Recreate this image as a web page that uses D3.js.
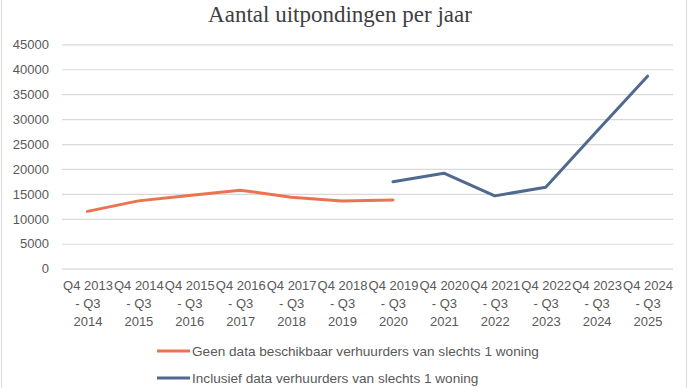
<!DOCTYPE html>
<html>
<head>
<meta charset="utf-8">
<script src="https://cdn.jsdelivr.net/npm/d3@7"></script>
<style>
  body { margin: 0; background: #fff; }
  svg { display: block; font-family: "Liberation Sans", Arial, sans-serif; }
</style>
</head>
<body>
<div id="chart"></div>
<script>
"use strict";

var categories = [
    "Q4 2013 - Q3 2014", "Q4 2014 - Q3 2015", "Q4 2015 - Q3 2016",
    "Q4 2016 - Q3 2017", "Q4 2017 - Q3 2018", "Q4 2018 - Q3 2019",
    "Q4 2019 - Q3 2020", "Q4 2020 - Q3 2021", "Q4 2021 - Q3 2022",
    "Q4 2022 - Q3 2023", "Q4 2023 - Q3 2024", "Q4 2024 - Q3 2025"
];
// orange series: first 7 periods
var geenDataCats = categories.slice(0, 7);
var geenData = [11500, 13600, 14700, 15750, 14350, 13600, 13800];
// blue series: from Q4 2019 onwards
var inclusiefCats = categories.slice(6);
var inclusiefData = [17450, 19150, 14600, 16350, 27500, 38600];

var yTicks = [0, 5000, 10000, 15000, 20000, 25000, 30000, 35000, 40000, 45000];
var seriesNames = [
    "Geen data beschikbaar verhuurders van slechts 1 woning",
    "Inclusief data verhuurders van slechts 1 woning"
];
var seriesColors = ["#ea7350", "#4f6a8e"];

function chart() {
    var w = 690;
    var h = 388;
    var left = 62, right = 673, top = 44.3, bottom = 268.7;

    var svg = d3.select("#chart")
                .append("svg")
                .attr("width", w)
                .attr("height", h);

    // chart area border
    svg.append("rect")
       .attr("x", 1.5).attr("y", -5)
       .attr("width", 685).attr("height", 400)
       .attr("fill", "none")
       .attr("stroke", "#d9d9d9");

    svg.append("text")
       .attr("x", 340).attr("y", 22)
       .attr("text-anchor", "middle")
       .style("font-family", "'Liberation Serif', 'Times New Roman', serif")
       .style("font-size", "23px")
       .style("fill", "#404040")
       .text("Aantal uitpondingen per jaar");

    var x = d3.scalePoint()
              .domain(categories)
              .range([left, right])
              .padding(0.5);

    var y = d3.scaleLinear()
              .domain([0, 45000])
              .range([bottom, top]);

    var yAxis = svg.append("g")
       .attr("transform", "translate(" + left + ",0)")
       .call(d3.axisLeft(y).tickValues(yTicks).tickFormat(d3.format("d"))
               .tickSize(-(right - left)).tickPadding(13));
    yAxis.select(".domain").remove();
    yAxis.selectAll(".tick line").attr("stroke", "#d9d9d9").attr("stroke-width", 1.2);
    yAxis.selectAll(".tick text")
         .style("font-size", "13px")
         .style("fill", "#595959")
         .style("font-family", "'Liberation Sans', Arial, sans-serif");

    var xAxis = svg.append("g")
       .attr("transform", "translate(0," + bottom + ")")
       .call(d3.axisBottom(x).tickSize(0).tickFormat(""));
    xAxis.select(".domain").remove();
    xAxis.selectAll(".tick").each(function(d) {
        var parts = d.match(/^(Q\d \d{4}) (- Q\d) (\d{4})$/);
        var t = d3.select(this).append("text")
                  .attr("text-anchor", "middle")
                  .style("font-size", "13px")
                  .style("fill", "#595959")
                  .style("font-family", "'Liberation Sans', Arial, sans-serif");
        [parts[1], parts[2], parts[3]].forEach(function(s, i) {
            t.append("tspan").attr("x", 0).attr("y", 21 + i * 18).text(s);
        });
    });

    var line = d3.line()
                 .x(function(d) { return x(d[0]); })
                 .y(function(d) { return y(d[1]); });

    svg.append("path")
       .datum(d3.zip(geenDataCats, geenData))
       .attr("d", line)
       .attr("fill", "none")
       .attr("stroke", seriesColors[0])
       .attr("stroke-width", 3)
       .attr("stroke-linejoin", "round")
       .attr("stroke-linecap", "round");

    svg.append("path")
       .datum(d3.zip(inclusiefCats, inclusiefData))
       .attr("d", line)
       .attr("fill", "none")
       .attr("stroke", seriesColors[1])
       .attr("stroke-width", 3)
       .attr("stroke-linejoin", "round")
       .attr("stroke-linecap", "round");

    // legend
    var legend = svg.selectAll(".legend")
                    .data(seriesNames)
                    .enter()
                    .append("g")
                    .attr("transform", function(d, i) {
                        return "translate(157," + (351 + i * 27) + ")";
                    });
    legend.append("line")
          .attr("x1", 0).attr("x2", 33)
          .attr("stroke", function(d, i) { return seriesColors[i]; })
          .attr("stroke-width", 3);
    legend.append("text")
          .attr("x", 35).attr("y", 4.8)
          .style("font-size", "13.6px")
          .style("fill", "#595959")
          .text(function(d) { return d; });
}

window.onload = chart;
</script>
</body>
</html>
